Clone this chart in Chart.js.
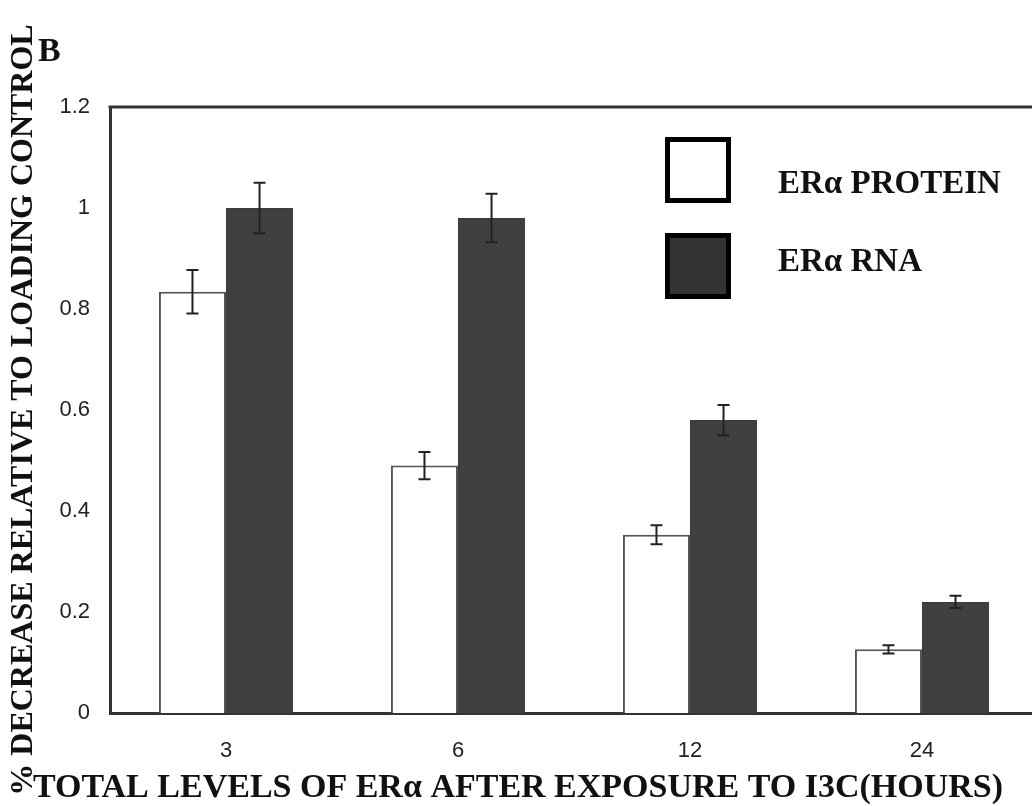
<!DOCTYPE html>
<html>
<head>
<meta charset="utf-8">
<script src="https://cdn.jsdelivr.net/npm/chart.js@4.4.1/dist/chart.umd.min.js"></script>
<style>
  html, body { margin: 0; padding: 0; background: #fff; overflow: hidden; }
  #wrap { width: 1046px; height: 806px; position: relative; }
</style>
</head>
<body>
<div id="wrap"><canvas id="c"></canvas></div>
<script>
// Hours of I3C exposure
const categories = ['3', '6', '12', '24'];
// ERα protein and RNA levels relative to loading control
const proteinValues = [0.834, 0.490, 0.353, 0.126];
const proteinErrors = [0.043, 0.027, 0.019, 0.008];
const rnaValues = [1.000, 0.980, 0.580, 0.220];
const rnaErrors = [0.050, 0.048, 0.030, 0.012];
// Y axis ticks
const yTicks = [0, 0.2, 0.4, 0.6, 0.8, 1, 1.2];

const seriesLabels = ['ERα PROTEIN', 'ERα RNA'];
const panelLetter = 'B';
const xTitle = 'TOTAL LEVELS OF ERα AFTER EXPOSURE TO I3C(HOURS)';
const yTitle = '% DECREASE RELATIVE TO LOADING CONTROL';

const serif = '"Liberation Serif", "Times New Roman", serif';
const sans = '"Liberation Sans", Arial, sans-serif';

const errorBars = {
  id: 'errorBars',
  afterDatasetsDraw(chart) {
    const ctx = chart.ctx;
    const y = chart.scales.y;
    ctx.save();
    ctx.strokeStyle = '#222';
    ctx.lineWidth = 2;
    chart.data.datasets.forEach((ds, di) => {
      const meta = chart.getDatasetMeta(di);
      meta.data.forEach((bar, i) => {
        const v = ds.data[i], e = ds.errors[i];
        const yTop = y.getPixelForValue(v + e);
        const yBot = y.getPixelForValue(v - e);
        const cap = 6;
        ctx.beginPath();
        ctx.moveTo(bar.x, yTop); ctx.lineTo(bar.x, yBot);
        ctx.moveTo(bar.x - cap, yTop); ctx.lineTo(bar.x + cap, yTop);
        ctx.moveTo(bar.x - cap, yBot); ctx.lineTo(bar.x + cap, yBot);
        ctx.stroke();
      });
    });
    ctx.restore();
  }
};

const decorations = {
  id: 'decorations',
  afterDraw(chart) {
    const ctx = chart.ctx;
    const a = chart.chartArea;
    ctx.save();
    // top frame line
    ctx.strokeStyle = '#333';
    ctx.lineWidth = 3;
    ctx.beginPath();
    ctx.moveTo(a.left - 1.5, a.top);
    ctx.lineTo(a.right, a.top);
    ctx.stroke();

    // panel letter
    ctx.fillStyle = '#111';
    ctx.font = 'bold 34px ' + serif;
    ctx.textAlign = 'left';
    ctx.textBaseline = 'alphabetic';
    ctx.fillText(panelLetter, 38, 61);

    // x axis title, centred on the page
    ctx.font = 'bold 34px ' + serif;
    ctx.textAlign = 'center';
    ctx.fillText(xTitle, 518, 797);

    // legend
    const boxes = [
      { x: 665, y: 137, fill: '#ffffff', ty: 184 },
      { x: 665, y: 233, fill: '#333333', ty: 262 }
    ];
    boxes.forEach((b, i) => {
      ctx.fillStyle = b.fill;
      ctx.fillRect(b.x, b.y, 66, 66);
      ctx.strokeStyle = '#000';
      ctx.lineWidth = 5;
      ctx.strokeRect(b.x + 2.5, b.y + 2.5, 61, 61);
      ctx.fillStyle = '#111';
      ctx.font = 'bold 33px ' + serif;
      ctx.textAlign = 'left';
      ctx.textBaseline = 'middle';
      ctx.fillText(chart.data.datasets[i].label, 778, b.ty);
    });
    ctx.restore();
  }
};

new Chart(document.getElementById('c'), {
  type: 'bar',
  data: {
    labels: categories,
    datasets: [
      {
        label: seriesLabels[0],
        data: proteinValues,
        errors: proteinErrors,
        backgroundColor: '#ffffff',
        borderColor: '#555555',
        borderWidth: 2,
        borderSkipped: 'bottom'
      },
      {
        label: seriesLabels[1],
        data: rnaValues,
        errors: rnaErrors,
        backgroundColor: '#404040',
        borderColor: '#3a3a3a',
        borderWidth: 1,
        borderSkipped: 'bottom'
      }
    ]
  },
  options: {
    responsive: true,
    maintainAspectRatio: false,
    animation: false,
    devicePixelRatio: 1,
    layout: { padding: { left: 0, top: 107, right: 8, bottom: 0 } },
    datasets: { bar: { barPercentage: 1, categoryPercentage: 0.578 } },
    plugins: {
      legend: { display: false },
      tooltip: { enabled: false }
    },
    scales: {
      x: {
        grid: { display: false, drawTicks: false },
        border: { display: true, color: '#333', width: 3 },
        ticks: { color: '#222', font: { family: sans, size: 22 }, padding: 25 },
        afterFit(s) { s.height = 93; }
      },
      y: {
        min: 0,
        max: 1.2,
        grid: { display: false, drawTicks: false },
        border: { display: true, color: '#333', width: 3 },
        afterBuildTicks(s) { s.ticks = yTicks.map(v => ({ value: v })); },
        ticks: {
          color: '#222',
          font: { family: sans, size: 22 },
          padding: 20,
          callback: v => String(v)
        },
        title: {
          display: true,
          text: yTitle,
          color: '#111',
          font: { family: serif, size: 32, weight: 'bold' },
          padding: { top: 5, bottom: 0 }
        },
        afterFit(s) { s.width = 110; }
      }
    }
  },
  plugins: [errorBars, decorations]
});
</script>
</body>
</html>
